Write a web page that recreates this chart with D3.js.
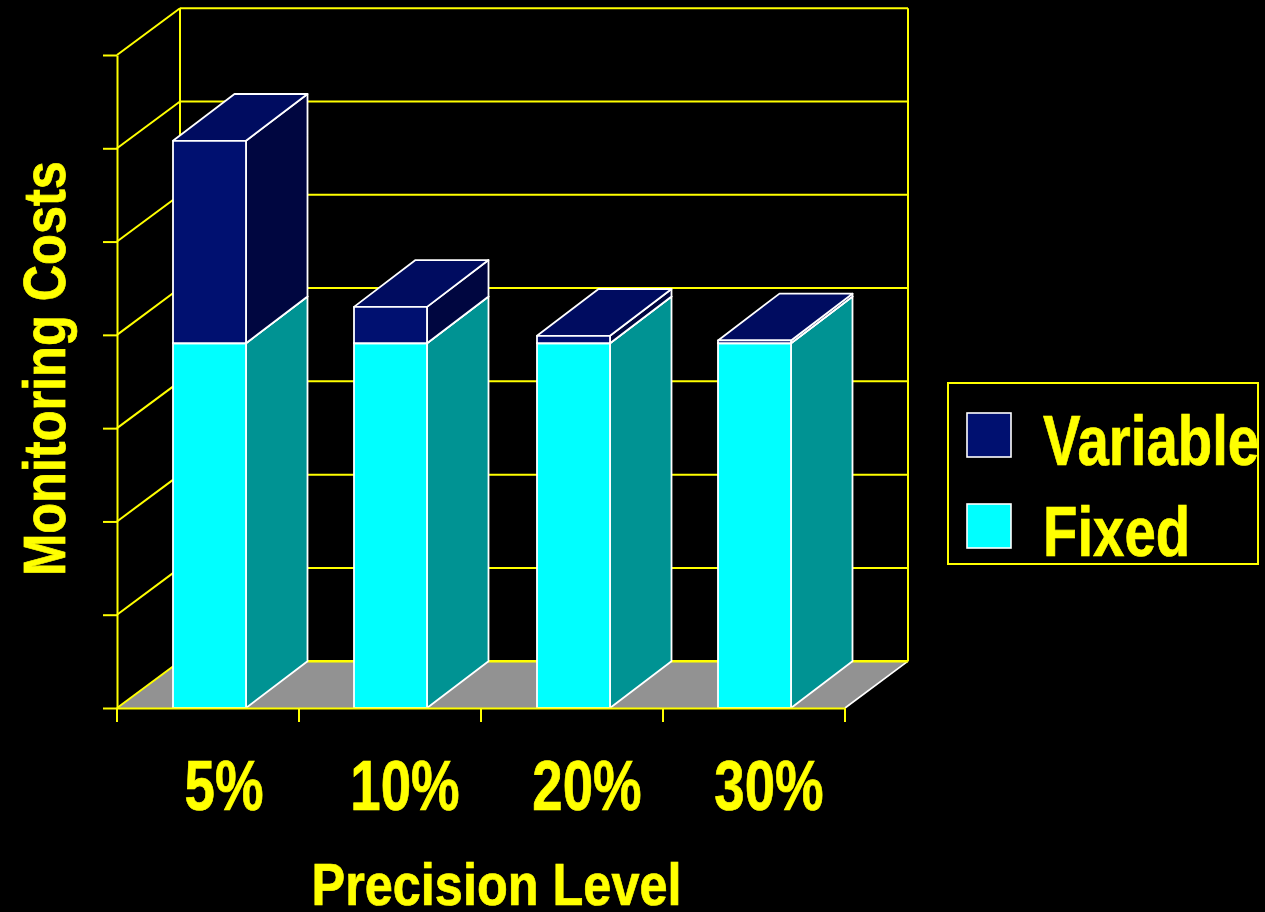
<!DOCTYPE html>
<html>
<head>
<meta charset="utf-8">
<script src="https://cdn.jsdelivr.net/npm/d3@7"></script>
<style>
html,body{margin:0;padding:0;background:#000;overflow:hidden}
svg{display:block}
text{font-family:"Liberation Sans",Arial,sans-serif;font-weight:bold;fill:#ffff00;stroke:#ffff00;stroke-width:0.7}
</style>
</head>
<body>
<svg id="chart" width="1265" height="912"></svg>
<script>
// Monitoring cost by precision level, in hundreds of arbitrary units
const categories = ["5%", "10%", "20%", "30%"];
const seriesNames = ["Fixed", "Variable"];
const fixedValues = [391, 391, 391, 391];
const variableValues = [217, 39, 8, 3];
const yTicks = [0, 100, 200, 300, 400, 500, 600, 700];

const seriesColors = {
  Fixed: {front: "#00ffff", side: "#009393", top: "#00c8c8"},
  Variable: {front: "#001070", side: "#000640", top: "#000c60"}
};
const yellow = "#ffff00";
const white = "#ffffff";

const svg = d3.select("#chart");

const x = d3.scaleBand().domain(categories).range([117, 845]);
const y = d3.scaleLinear().domain([0, 700]).range([708, 55]);

// Oblique offsets of the back wall and of the bar tops
const wallDx = 63, wallDy = -46.8;
const barDx = 61.5, barDy = -46.8;
const barWidth = 73;
const barOffset = [56, 55, 56, 55];

const frontLeft = x.range()[0], frontRight = x.range()[1];
const backLeft = frontLeft + wallDx, backRight = frontRight + wallDx;
const floorBack = y(0) + wallDy;

// Floor
svg.append("polygon")
  .attr("points", [[frontLeft, y(0)], [frontRight, y(0)], [backRight, floorBack], [backLeft, floorBack]].join(" "))
  .attr("fill", "#929292");
svg.append("line")
  .attr("x1", frontRight).attr("y1", y(0)).attr("x2", backRight).attr("y2", floorBack)
  .attr("stroke", white).attr("stroke-width", 1.6);

// Back wall frame and grid
const wall = svg.append("g").attr("fill", "none").attr("stroke", yellow).attr("stroke-width", 2);
yTicks.forEach(t => {
  wall.append("line")
    .attr("x1", backLeft).attr("x2", backRight)
    .attr("y1", y(t) + wallDy).attr("y2", y(t) + wallDy)
    .attr("stroke-width", t === 0 ? 2.4 : 2);
  wall.append("line")
    .attr("x1", frontLeft).attr("x2", backLeft)
    .attr("y1", y(t)).attr("y2", y(t) + wallDy);
});
[backLeft, backRight].forEach(px => {
  wall.append("line").attr("x1", px).attr("x2", px)
    .attr("y1", y(700) + wallDy).attr("y2", floorBack);
});

// Stacked bars
const rows = categories.map((c, i) => ({category: c, Fixed: fixedValues[i], Variable: variableValues[i]}));
const stacked = d3.stack().keys(seriesNames)(rows);

const prism = (x0, yBase, yTop) => ({
  front: [[x0, yTop], [x0 + barWidth, yTop], [x0 + barWidth, yBase], [x0, yBase]],
  side: [[x0 + barWidth, yTop], [x0 + barWidth + barDx, yTop + barDy],
         [x0 + barWidth + barDx, yBase + barDy], [x0 + barWidth, yBase]],
  top: [[x0, yTop], [x0 + barDx, yTop + barDy],
        [x0 + barWidth + barDx, yTop + barDy], [x0 + barWidth, yTop]]
});

const barsLayer = svg.append("g").attr("stroke", white).attr("stroke-width", 1.8).attr("stroke-linejoin", "round");
categories.forEach((c, i) => {
  const x0 = x(c) + barOffset[i];
  stacked.forEach(s => {
    const colors = seriesColors[s.key];
    const p = prism(x0, y(s[i][0]), y(s[i][1]));
    ["side", "top", "front"].forEach(face => {
      barsLayer.append("polygon")
        .attr("points", p[face].join(" "))
        .attr("fill", colors[face]);
    });
  });
});

// Value axis: tick marks only
const yAxis = svg.append("g")
  .attr("transform", `translate(${frontLeft},0)`)
  .call(d3.axisLeft(y).tickValues(yTicks).tickFormat("").tickSize(14).tickSizeOuter(0));
yAxis.selectAll("path.domain, .tick line").attr("stroke", yellow).attr("stroke-width", 2);

// Baseline and category ticks drawn over the bar feet
const xAxis = svg.append("g")
  .attr("transform", `translate(0,${y(0)})`)
  .call(d3.axisBottom(x).tickValues([]).tickSizeOuter(0));
xAxis.select("path.domain").attr("stroke", yellow).attr("stroke-width", 2.2);
categories.concat("end").forEach((c, i) => {
  const px = frontLeft + i * x.step();
  xAxis.append("line").attr("x1", px).attr("x2", px).attr("y1", 0).attr("y2", 14)
    .attr("stroke", yellow).attr("stroke-width", 2);
});

// Condensed bold text helper
function label(px, py, str, size, squeeze, anchor, rotate) {
  const t = rotate ? `translate(${px},${py}) rotate(${rotate}) scale(${squeeze},1)`
                   : `translate(${px},${py}) scale(${squeeze},1)`;
  return svg.append("text").attr("transform", t)
    .attr("text-anchor", anchor).attr("font-size", size).text(str);
}

const labelCenters = [224, 405, 587, 769];
categories.forEach((c, i) => label(labelCenters[i], 810, c, 70, 0.78, "middle"));
label(496.5, 905, "Precision Level", 59, 0.855, "middle");
label(65, 368.5, "Monitoring Costs", 59, 0.855, "middle", -90);

// Legend
svg.append("rect").attr("x", 948).attr("y", 383).attr("width", 310).attr("height", 181)
  .attr("fill", "none").attr("stroke", yellow).attr("stroke-width", 2);
const legendOrder = ["Variable", "Fixed"];
const legendY = d3.scalePoint().domain(legendOrder).range([413, 504]);
legendOrder.forEach(name => {
  svg.append("rect").attr("x", 967).attr("y", legendY(name)).attr("width", 44).attr("height", 44)
    .attr("fill", seriesColors[name].front).attr("stroke", white).attr("stroke-width", 1.6);
  label(1043, legendY(name) + 51.5, name, 70, 0.805, "start");
});
</script>
</body>
</html>
